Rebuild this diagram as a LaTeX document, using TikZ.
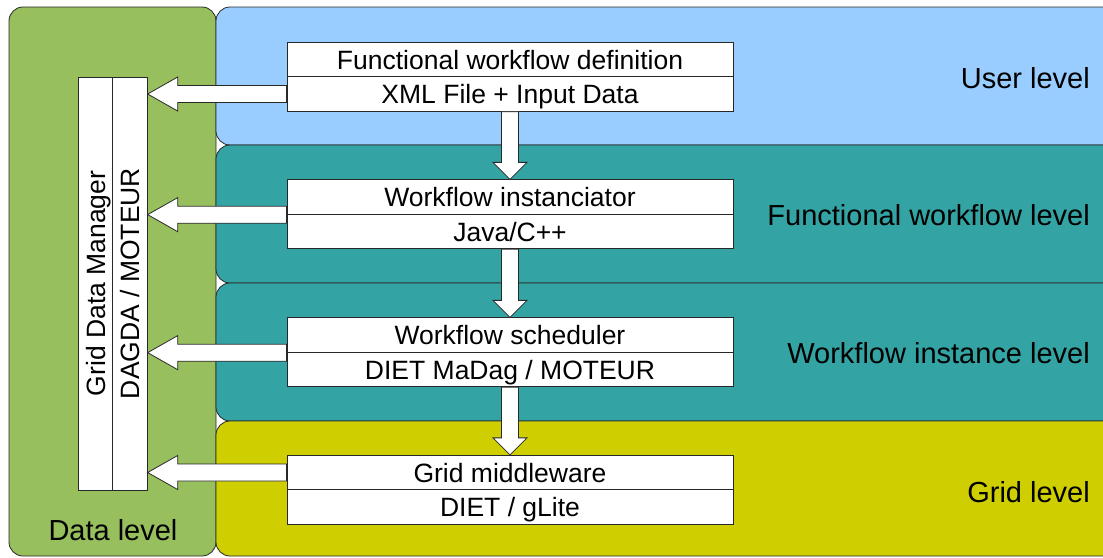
\documentclass[tikz,border=0pt]{standalone}
\usepackage{fontspec}
\setmainfont{Liberation Sans}
\usetikzlibrary{calc}
\definecolor{datagreen}{RGB}{151,191,94}
\definecolor{userblue}{RGB}{153,204,255}
\definecolor{tealc}{RGB}{51,163,163}
\definecolor{gridyellow}{RGB}{207,206,0}
\definecolor{edge}{RGB}{40,40,40}
\tikzset{
  levelbox/.style={draw=edge, line width=0.8pt, rounded corners=14pt},
  cell/.style={draw=edge, line width=0.8pt, fill=white, minimum width=446pt, minimum height=34.5pt,
    inner sep=0pt, text height=19pt, text depth=0pt, font=\fontsize{26.5}{30}\selectfont},
  vcell/.style={draw=edge, line width=0.8pt, fill=white, minimum width=413pt, minimum height=34.5pt,
    inner sep=0pt, text height=19pt, text depth=0pt, rotate=90, font=\fontsize{26.5}{30}\selectfont},
  levellabel/.style={anchor=east, inner sep=0pt, font=\fontsize{29}{32}\selectfont},
  bigarrow/.style={draw=edge, line width=0.8pt, fill=white, line join=miter}
}
\begin{document}
\begin{tikzpicture}[x=1pt,y=-1pt]
\useasboundingbox (0,0) rectangle (1103,557);
% background levels
\draw[levelbox, fill=datagreen] (9,7) rectangle (216,556);
\draw[levelbox, fill=userblue] (216,7) rectangle (1130,145);
\draw[levelbox, fill=tealc] (216,145) rectangle (1130,283);
\draw[levelbox, fill=tealc] (216,283) rectangle (1130,421);
\draw[levelbox, fill=gridyellow] (216,421) rectangle (1130,556);
% level labels
\node[levellabel] (lu) at (1090,78) {User level};
\node[levellabel] (lf) at (1090,215) {Functional workflow level};
\node[levellabel] (li) at (1090,353) {Workflow instance level};
\node[levellabel] (lg) at (1090,492) {Grid level};
\node[inner sep=0pt, font=\fontsize{29}{32}\selectfont] (ld) at (113,530) {Data level};
% boxes
\node[cell] (b1t) at (510,59.5) {Functional workflow definition};
\node[cell] (b1b) at (510,94) {XML File + Input Data};
\node[cell] (b2t) at (510,197) {Workflow instanciator};
\node[cell] (b2b) at (510,231.5) {Java/C++};
\node[cell] (b3t) at (510,335) {Workflow scheduler};
\node[cell] (b3b) at (510,369.5) {DIET MaDag / MOTEUR};
\node[cell] (b4t) at (510,472.5) {Grid middleware};
\node[cell] (b4b) at (510,507) {DIET / gLite};
% grid data manager
\node[vcell] (gl) at (95.5,283.5) {Grid Data Manager};
\node[vcell] (gr) at (130,283.5) {DAGDA / MOTEUR};
% down arrows
\foreach \s/\t in {b1b/b2t, b2b/b3t, b3b/b4t}{
  \path[bigarrow] let \p1=(\s.south), \p2=(\t.north) in
    (\x1-8.5pt,\y1) -- (\x1-8.5pt,\y2+17pt) -- (\x1-17pt,\y2+17pt) -- (\x1,\y2)
    -- (\x1+17pt,\y2+17pt) -- (\x1+8.5pt,\y2+17pt) -- (\x1+8.5pt,\y1) -- cycle;
}
% left arrows
\foreach \a in {b1b.west, b2t.south west, b3t.south west, b4t.west}{
  \path[bigarrow] let \p1=(\a), \p2=(gr.south) in
    (\x1,\y1+8.5pt) -- (\x2+30pt,\y1+8.5pt) -- (\x2+30pt,\y1+17pt) -- (\x2,\y1)
    -- (\x2+30pt,\y1-17pt) -- (\x2+30pt,\y1-8.5pt) -- (\x1,\y1-8.5pt) -- cycle;
}
\end{tikzpicture}
\end{document}
